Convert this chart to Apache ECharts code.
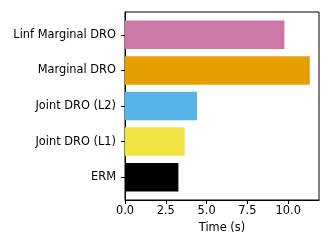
<!DOCTYPE html>
<html><head><meta charset="utf-8">
<script src="https://cdn.jsdelivr.net/npm/echarts@6/dist/echarts.min.js"></script>
<style>html,body{margin:0;padding:0;background:#fff}#c{width:332px;height:249px}</style>
</head><body><div id="c"></div>
<script>
var categories = ['ERM', 'Joint DRO (L1)', 'Joint DRO (L2)', 'Marginal DRO', 'Linf Marginal DRO'];
var times = [3.27, 3.66, 4.41, 11.32, 9.77];
var barColors = ['#000000', '#F0E442', '#56B4E9', '#E69F00', '#CC79A7'];
var xTicks = ['0.0', '2.5', '5.0', '7.5', '10.0'];
var xMax = 11.886;

var font = 'DejaVu Sans';
var fs = 11.4;
var chart = echarts.init(document.getElementById('c'), null, {renderer: 'canvas'});
chart.setOption({
  animation: false,
  textStyle: {fontFamily: font},
  grid: [
    {left: 125, top: 12, width: 194, height: 188, show: true, borderColor: '#000', borderWidth: 1, backgroundColor: 'transparent'},
    {left: 125, top: 17, width: 194, height: 178}
  ],
  xAxis: [
    {gridIndex: 0, type: 'value', min: 0, max: xMax, interval: 2.5,
     axisLine: {show: true, lineStyle: {color: '#000', width: 1}},
     axisTick: {show: true, length: 4, lineStyle: {color: '#000', width: 1}},
     axisLabel: {color: '#000', fontSize: fs, fontFamily: font, margin: 6,
       showMaxLabel: false,
       formatter: function (v) { var i = Math.round(v / 2.5); return xTicks[i] !== undefined ? xTicks[i] : ''; }},
     splitLine: {show: false},
     name: 'Time (s)', nameLocation: 'middle', nameGap: 23,
     nameTextStyle: {color: '#000', fontSize: fs, fontFamily: font}},
    {gridIndex: 1, type: 'value', min: 0, max: xMax, show: false, splitLine: {show: false}}
  ],
  yAxis: [
    {gridIndex: 0, type: 'value', min: 0, max: 1,
     axisLine: {show: true, lineStyle: {color: '#000', width: 1}},
     axisTick: {show: false}, axisLabel: {show: false}, splitLine: {show: false}},
    {gridIndex: 1, type: 'category', data: categories,
     axisLine: {show: false},
     axisTick: {show: true, alignWithLabel: true, length: 4, lineStyle: {color: '#000', width: 1}},
     axisLabel: {color: '#000', fontSize: fs, fontFamily: font, margin: 9}}
  ],
  series: [{
    type: 'bar', xAxisIndex: 1, yAxisIndex: 1,
    data: times.map(function (v, i) { return {value: v, itemStyle: {color: barColors[i]}}; }),
    barWidth: '80%'
  }]
});
</script></body></html>
